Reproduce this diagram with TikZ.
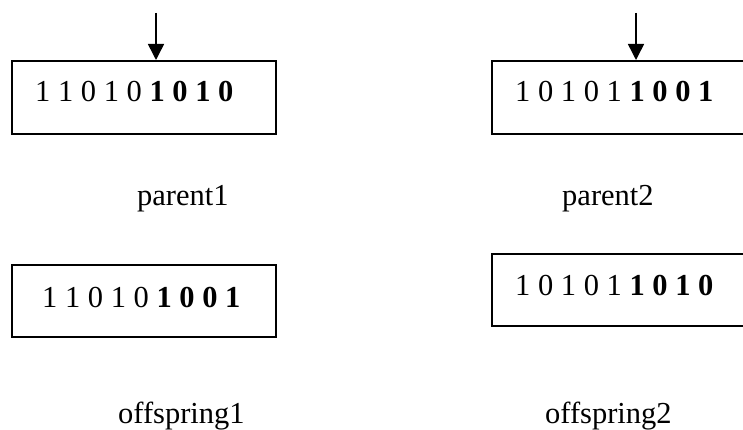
\documentclass[tikz,border=0pt]{standalone}
\usepackage{fontspec}
\setmainfont{Liberation Serif}
\usetikzlibrary{arrows.meta}
\begin{document}
\begin{tikzpicture}[x=1pt,y=-1pt,
  chrom/.style={draw,line width=2pt,rectangle,inner sep=0pt},
  bits/.style={anchor=base west,inner sep=0pt,font=\fontsize{30.5}{36}\selectfont},
  lbl/.style={anchor=base west,inner sep=0pt,font=\fontsize{30.5}{36}\selectfont},
  cut/.style={line width=1.5pt,-{Triangle[length=16pt,width=16pt]}}]
\useasboundingbox (0,0) rectangle (743,430);
% boxes
\node[chrom,minimum width=264pt,minimum height=73pt] (b1) at (144,97.5) {};
\node[chrom,minimum width=290pt,minimum height=73pt] (b2) at (637,97.5) {};
\node[chrom,minimum width=264pt,minimum height=72pt] (b3) at (144,301) {};
\node[chrom,minimum width=290pt,minimum height=72pt] (b4) at (637,290) {};
% bit strings
\node[bits] (t1) at (35,102) {1 1 0 1 0 \textbf{1 0 1 0}};
\node[bits] (t2) at (515,102) {1 0 1 0 1 \textbf{1 0 0 1}};
\node[bits] (t3) at (42,307) {1 1 0 1 0 \textbf{1 0 0 1}};
\node[bits] (t4) at (515,295) {1 0 1 0 1 \textbf{1 0 1 0}};
% labels
\node[lbl] (l1) at (137,205) {parent1};
\node[lbl] (l2) at (562,205) {parent2};
\node[lbl] (l3) at (118,423) {offspring1};
\node[lbl] (l4) at (545,423) {offspring2};
% crossover arrows
\coordinate (a1) at (156,13);
\coordinate (a2) at (636,13);
\draw[cut] (a1) -- (a1 |- b1.north);
\draw[cut] (a2) -- (a2 |- b2.north);
\end{tikzpicture}
\end{document}
